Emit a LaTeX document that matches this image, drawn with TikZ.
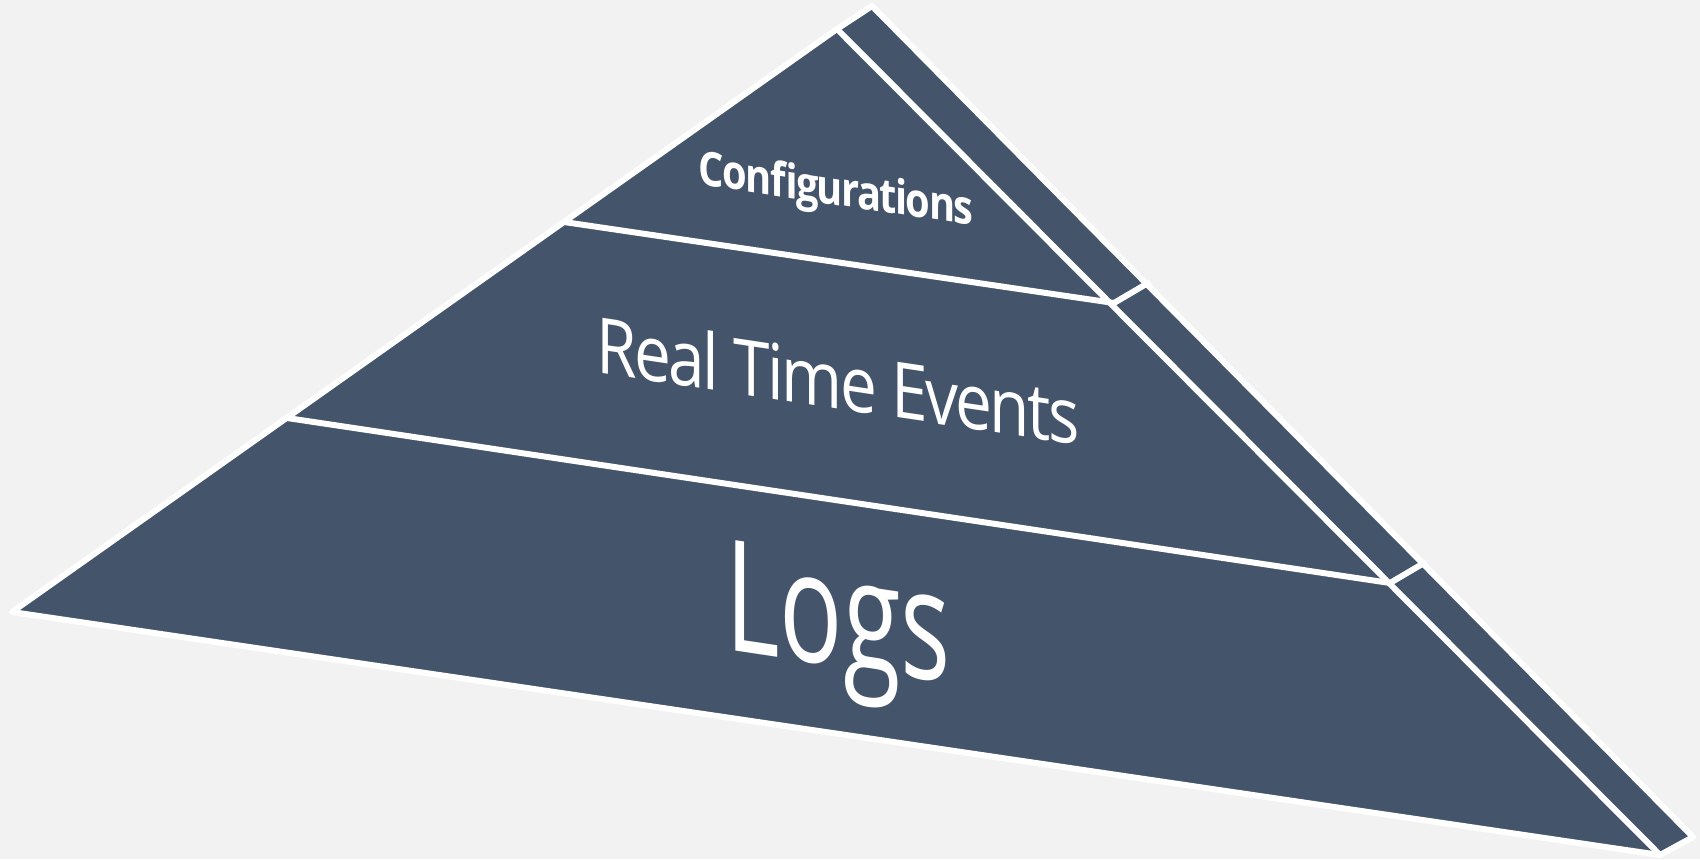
\documentclass[tikz,border=0pt]{standalone}
\usepackage{fontspec}
\usepackage{tkz-euclide}
\newfontfamily\lblfont[LetterSpace=-4]{Open Sans}
\newfontfamily\bigfont{Open Sans}
\definecolor{PyrClr}{HTML}{44546A}
\definecolor{BackClr}{HTML}{F2F2F2}

\begin{document}
\begin{tikzpicture}[lbl/.style={text=white,inner sep=0pt,anchor=base,yslant=-0.15}]
\useasboundingbox[fill=BackClr] (0,0) rectangle (17,8.59);
\tkzSetUpLine[line width=1.7pt,color=white]

\tkzDefPoints{8.37/8.30/A,8.72/8.53/B,0.12/2.47/L,16.60/0.04/R,16.93/0.22/S}
\tkzDefPoints{5.64/6.37/P1,11.14/5.56/Q1,11.48/5.76/T1}
\tkzDefPoints{2.87/4.41/P2,13.90/2.76/Q2,14.24/2.96/T2}

\tkzFillPolygon[fill=PyrClr](L,A,B,S,R)

\tkzDrawPolygon[line join=round](L,A,B,S,R)
\tkzDrawSegments[line join=round](A,R)
\tkzDrawPolySeg[line join=round](P1,Q1,T1)
\tkzDrawPolySeg[line join=round](P2,Q2,T2)

\node[lbl,xscale=0.84] (cfg) at (8.36,6.54) {\lblfont\bfseries\fontsize{13.5}{16}\selectfont Configurations};
\node[lbl,xscale=0.85] (rte) at (8.38,4.50) {\lblfont\fontsize{22}{26}\selectfont Real Time Events};
\node[lbl,xscale=0.68] (logs) at (8.38,1.93) {\bigfont\fontsize{44}{50}\selectfont Logs};

\end{tikzpicture}
\end{document}
